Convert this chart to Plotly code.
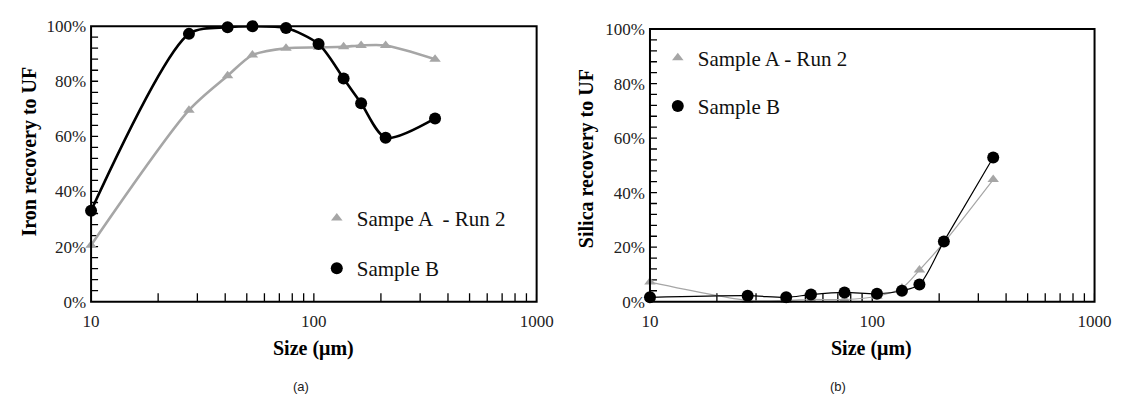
import plotly.graph_objects as go

# Particle size classes (µm)
sizes = [10, 27.5, 41, 53, 75, 105, 136, 163, 210, 350]

# Iron recovery to underflow (%)
iron_a = [20.5, 69.5, 82, 89.5, 92, 92.3, 92.5, 93, 93, 88]
iron_b = [33, 97.2, 99.6, 100, 99.3, 93.5, 81, 72, 59.5, 66.5]

# Silica recovery to underflow (%)
silica_a = [7.2, 0.5, 0.5, 0.8, 0.8, 2.0, 5.0, 11.6, 21.7, 44.8]
silica_b = [1.6, 2.2, 1.6, 2.6, 3.4, 2.9, 4.0, 6.3, 22.1, 52.9]

# y ticks every 4 %, labelled every 20 %
y_ticks = list(range(0, 101, 4))
y_labels = [0, 20, 40, 60, 80, 100]
# log-axis ticks: labelled decades plus unlabelled intermediate ticks
x_ticks = [10, 20, 30, 40, 50, 60, 70, 80, 90,
           100, 200, 300, 400, 500, 600, 700, 800, 900, 1000]
x_labels = [10, 100, 1000]

GRAY = "#a6a6a6"
BLACK = "#000000"
SERIF = "Liberation Serif"

W, H = 1135, 407


def px_x(p):
    return p / W


def px_y(p):
    return 1 - p / H


fig = go.Figure()


def add_tick_marks(xa, ya):
    # inward tick marks: line markers sitting on the axes, the outer half clipped away
    fig.add_trace(go.Scatter(
        x=x_ticks, y=[0] * len(x_ticks), xaxis=xa, yaxis=ya, mode="markers",
        marker=dict(symbol="line-ns", size=12, color=BLACK,
                    line=dict(color=BLACK, width=1.3)),
        cliponaxis=True, showlegend=False, hoverinfo="skip"))
    fig.add_trace(go.Scatter(
        x=[10] * len(y_ticks), y=y_ticks, xaxis=xa, yaxis=ya, mode="markers",
        marker=dict(symbol="line-ew", size=10, color=BLACK,
                    line=dict(color=BLACK, width=1.3)),
        cliponaxis=True, showlegend=False, hoverinfo="skip"))


def add_series(x, y, xa, ya, name, color, symbol, msize, lwidth, legend, group):
    # smoothed connecting line (kept out of the legend)
    fig.add_trace(go.Scatter(
        x=x, y=y, xaxis=xa, yaxis=ya, mode="lines",
        line=dict(color=color, width=lwidth, shape="spline", smoothing=0.8),
        showlegend=False, hoverinfo="skip"))
    # data markers
    fig.add_trace(go.Scatter(
        x=x, y=y, xaxis=xa, yaxis=ya, mode="markers", name=name,
        marker=dict(color=color, symbol=symbol, size=msize, line=dict(width=0)),
        cliponaxis=False, legend=legend, legendgroup=group))


# (a) iron
add_tick_marks("x", "y")
add_series(sizes, iron_a, "x", "y", "Sampe A  - Run 2", GRAY, "triangle-up", 10, 2.6, "legend", "a1")
add_series(sizes, iron_b, "x", "y", "Sample B", BLACK, "circle", 12, 2.6, "legend", "b1")

# (b) silica
add_tick_marks("x2", "y2")
add_series(sizes, silica_a, "x2", "y2", "Sample A - Run 2", GRAY, "triangle-up", 10, 1.2, "legend2", "a2")
add_series(sizes, silica_b, "x2", "y2", "Sample B", BLACK, "circle", 12, 1.2, "legend2", "b2")

tick_font = dict(family=SERIF, size=17, color="#222")

xaxis_common = dict(
    type="log", range=[1, 3], tickmode="array", tickvals=x_labels,
    ticktext=[str(v) for v in x_labels], ticks="", ticklabelstandoff=7,
    showline=False, showgrid=False, zeroline=False, tickfont=tick_font,
)
yaxis_common = dict(
    range=[0, 100], tickmode="array", tickvals=y_labels,
    ticktext=[f"{v}%" for v in y_labels], ticks="", ticklabelstandoff=4,
    showline=False, showgrid=False, zeroline=False, tickfont=tick_font,
)

legend_common = dict(
    font=dict(family=SERIF, size=21, color="#111"),
    bgcolor="rgba(0,0,0,0)", borderwidth=0, itemsizing="trace",
    xanchor="left", yanchor="top", itemwidth=30,
)

fig.update_layout(
    width=W, height=H, margin=dict(l=0, r=0, t=0, b=0),
    paper_bgcolor="white", plot_bgcolor="white",
    font=dict(family=SERIF),
    xaxis=dict(domain=[px_x(84), px_x(540)], anchor="y", **xaxis_common),
    yaxis=dict(domain=[px_y(307), px_y(18)], anchor="x", **yaxis_common),
    xaxis2=dict(domain=[px_x(656), px_x(1111)], anchor="y2", **xaxis_common),
    yaxis2=dict(domain=[px_y(307), px_y(21)], anchor="x2", **yaxis_common),
    legend=dict(x=px_x(315), y=px_y(198), tracegroupgap=20, **legend_common),
    legend2=dict(x=px_x(664), y=px_y(30), tracegroupgap=18, **legend_common),
    showlegend=True,
)

# plot-area frames
for xa, ya in [("x", "y"), ("x2", "y2")]:
    fig.add_shape(type="rect", xref=f"{xa} domain", yref=f"{ya} domain",
                  x0=0, x1=1, y0=0, y1=1,
                  line=dict(color=BLACK, width=2), fillcolor="rgba(0,0,0,0)",
                  layer="above")

title_font = dict(family=SERIF, size=20, color=BLACK)
annotations = [
    dict(text="<b>Iron recovery to UF</b>", x=px_x(21), y=px_y(150), textangle=-90),
    dict(text="<b>Silica recovery to UF</b>", x=px_x(591), y=px_y(157), textangle=-90),
    dict(text="<b>Size (μm)</b>", x=px_x(312), y=px_y(356)),
    dict(text="<b>Size (μm)</b>", x=px_x(883), y=px_y(356)),
]
for a in annotations:
    fig.add_annotation(xref="paper", yref="paper", showarrow=False,
                       xanchor="center", yanchor="middle", font=title_font, **a)

for label, xp in [("(a)", 299), ("(b)", 848)]:
    fig.add_annotation(text=label, xref="paper", yref="paper", x=px_x(xp), y=px_y(396),
                       showarrow=False, xanchor="center", yanchor="middle",
                       font=dict(family="Liberation Sans", size=13, color="#222"))

fig.write_html("out.html")
